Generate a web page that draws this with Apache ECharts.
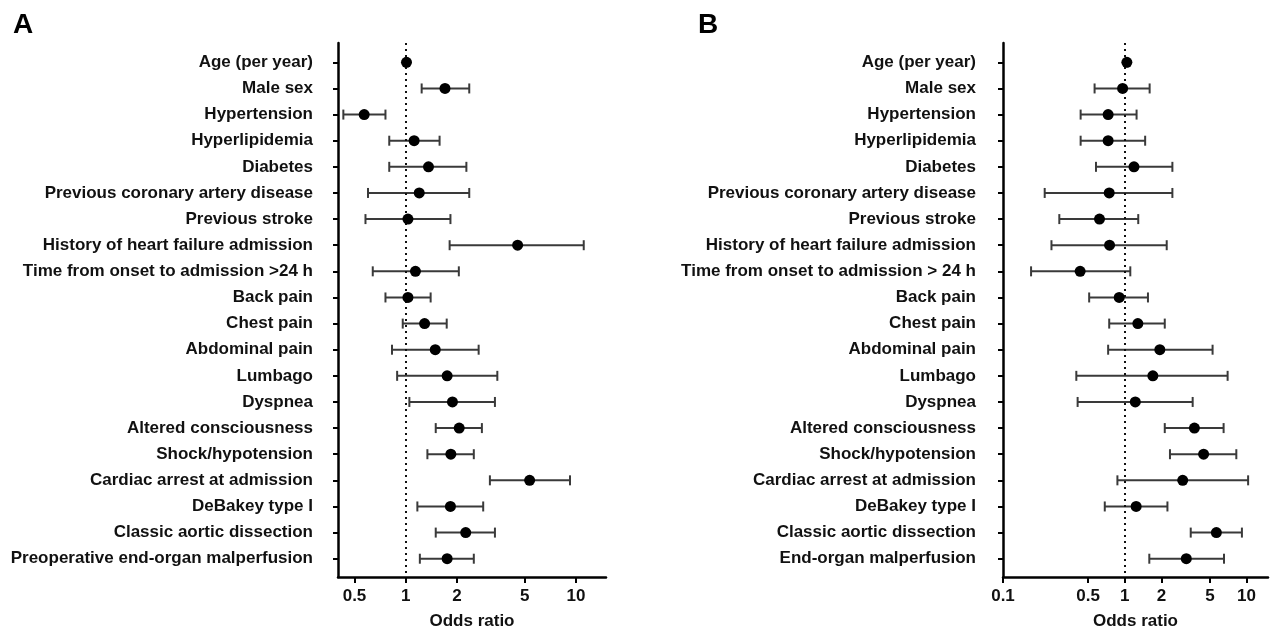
<!DOCTYPE html>
<html>
<head>
<meta charset="utf-8">
<script src="https://cdn.jsdelivr.net/npm/echarts@6/dist/echarts.min.js"></script>
<style>html,body{margin:0;padding:0;background:#fff}#c{width:1273px;height:633px}</style>
</head>
<body>
<div id="c"></div>
<script>
const categoriesA = ["Age (per year)","Male sex","Hypertension","Hyperlipidemia","Diabetes","Previous coronary artery disease","Previous stroke","History of heart failure admission","Time from onset to admission >24 h","Back pain","Chest pain","Abdominal pain","Lumbago","Dyspnea","Altered consciousness","Shock/hypotension","Cardiac arrest at admission","DeBakey type I","Classic aortic dissection","Preoperative end-organ malperfusion"];
const orA  = [1.01,1.70,0.57,1.12,1.36,1.20,1.03,4.54,1.14,1.03,1.29,1.49,1.75,1.88,2.06,1.84,5.34,1.83,2.25,1.75];
const loA  = [1.00,1.24,0.43,0.80,0.80,0.60,0.58,1.81,0.64,0.76,0.96,0.83,0.89,1.05,1.50,1.34,3.12,1.17,1.50,1.21];
const hiA  = [1.02,2.36,0.76,1.58,2.27,2.36,1.83,11.1,2.05,1.40,1.74,2.68,3.45,3.34,2.80,2.51,9.22,2.85,3.34,2.51];

const categoriesB = ["Age (per year)","Male sex","Hypertension","Hyperlipidemia","Diabetes","Previous coronary artery disease","Previous stroke","History of heart failure admission","Time from onset to admission > 24 h","Back pain","Chest pain","Abdominal pain","Lumbago","Dyspnea","Altered consciousness","Shock/hypotension","Cardiac arrest at admission","DeBakey type I","Classic aortic dissection","End-organ malperfusion"];
const orB  = [1.04,0.96,0.73,0.73,1.19,0.745,0.62,0.75,0.43,0.90,1.28,1.94,1.70,1.22,3.73,4.44,2.99,1.24,5.65,3.20];
const loB  = [1.03,0.565,0.434,0.434,0.58,0.22,0.29,0.25,0.17,0.51,0.745,0.73,0.40,0.41,2.13,2.35,0.87,0.685,3.48,1.59];
const hiB  = [1.05,1.60,1.25,1.47,2.46,2.46,1.29,2.21,1.11,1.55,2.13,5.26,6.99,3.61,6.48,8.24,10.3,2.24,9.16,6.53];

const ticksA = [0.5,1,2,5,10];
const ticksB = [0.1,0.5,1,2,5,10];
const refValue = 1;

const FONT = '"Liberation Sans", Arial, sans-serif';
const chart = echarts.init(document.getElementById('c'));

function xAxisCfg(grid, min, max, ticks){
  return {
    type:'log', logBase:10, gridIndex:grid, min:min, max:max,
    name:'Odds ratio', nameLocation:'middle', nameGap:36,
    nameTextStyle:{fontFamily:FONT,fontWeight:'bold',fontSize:17,color:'#111'},
    axisLine:{onZero:false,lineStyle:{color:'#000',width:2.5}},
    axisTick:{show:true,length:6,lineStyle:{color:'#000',width:2},customValues:ticks},
    axisLabel:{fontFamily:FONT,fontWeight:'bold',fontSize:17,color:'#111',margin:11,customValues:ticks,
      formatter:v=>String(+(+v).toPrecision(3))},
    splitLine:{show:false}, minorTick:{show:false}
  };
}
function yAxisCfg(grid, cats, margin){
  return {
    type:'value', gridIndex:grid, inverse:true, min:-0.74, max:19.7,
    axisLine:{show:true,onZero:false,lineStyle:{color:'#000',width:2.5}},
    axisTick:{show:true,length:5,lineStyle:{color:'#000',width:2},customValues:cats.map((c,i)=>i)},
    axisLabel:{fontFamily:FONT,fontWeight:'bold',fontSize:17,color:'#111',margin:margin,
      customValues:cats.map((c,i)=>i), formatter:v=>cats[Math.round(v)]},
    splitLine:{show:false}
  };
}
function errSeries(idx, lo, hi){
  return {
    type:'custom', xAxisIndex:idx, yAxisIndex:idx, silent:true,
    data: lo.map((l,i)=>[l,hi[i],i]),
    encode:{x:[0,1],y:2},
    renderItem:(params, api)=>{
      const y = api.value(2);
      const p1 = api.coord([api.value(0), y]);
      const p2 = api.coord([api.value(1), y]);
      const st = {stroke:'#3a3a3a', lineWidth:2};
      const c = 5;
      return {type:'group', children:[
        {type:'line', shape:{x1:p1[0],y1:p1[1],x2:p2[0],y2:p2[1]}, style:st},
        {type:'line', shape:{x1:p1[0],y1:p1[1]-c,x2:p1[0],y2:p1[1]+c}, style:st},
        {type:'line', shape:{x1:p2[0],y1:p2[1]-c,x2:p2[0],y2:p2[1]+c}, style:st}
      ]};
    }
  };
}
function ptSeries(idx, or){
  return {
    type:'scatter', xAxisIndex:idx, yAxisIndex:idx, symbol:'circle', symbolSize:11,
    itemStyle:{color:'#000', opacity:1}, z:5, silent:true,
    data: or.map((v,i)=>[v,i]),
    markLine:{silent:true, symbol:['none','none'], label:{show:false},
      lineStyle:{type:[2,4],color:'#111',width:2},
      data:[[{coord:[refValue,-0.74]},{coord:[refValue,19.7]}]]}
  };
}

chart.setOption({
  animation:false,
  title:[
    {text:'A', left:8, top:6, textStyle:{fontFamily:FONT,fontWeight:'bold',fontSize:28,color:'#000'}},
    {text:'B', left:693, top:6, textStyle:{fontFamily:FONT,fontWeight:'bold',fontSize:28,color:'#000'}}
  ],
  grid:[
    {left:338, right:667, top:43, bottom:56, outerBoundsMode:'none', containLabel:false},
    {left:1003, right:5, top:43, bottom:56, outerBoundsMode:'none', containLabel:false}
  ],
  xAxis:[xAxisCfg(0,0.4,15,ticksA), xAxisCfg(1,0.1,15,ticksB)],
  yAxis:[yAxisCfg(0,categoriesA,25), yAxisCfg(1,categoriesB,27)],
  series:[errSeries(0,loA,hiA), ptSeries(0,orA), errSeries(1,loB,hiB), ptSeries(1,orB)]
});
</script>
</body>
</html>
